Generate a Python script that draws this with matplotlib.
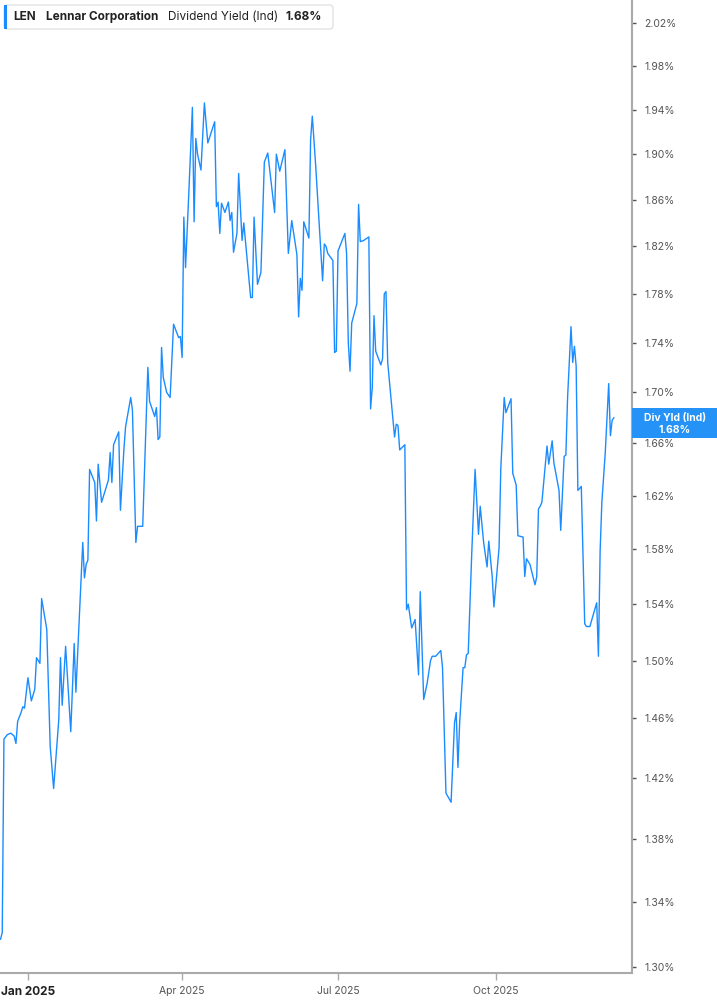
import numpy as np
import matplotlib
matplotlib.use("Agg")
import matplotlib.pyplot as plt
import matplotlib.dates as mdates
from matplotlib.patches import Rectangle, FancyBboxPatch
from matplotlib.ticker import FixedLocator, NullLocator, NullFormatter

# days counted from 2025-01-01, dividend yield in %
days = [-16, -15, -14, -12, -10, -8, -7, -6, -4, -3, -2, 0, 2, 4, 5, 7, 8, 11, 13, 15,
        18, 19, 20, 22, 25, 27, 28, 32, 33, 34, 35, 36, 39, 40, 41, 43, 47, 48, 49, 50,
        53, 54, 56, 57, 60, 61, 63, 64, 67, 70, 71, 74, 75, 76, 77, 78, 79, 81, 83, 85,
        88, 89, 90, 91, 92, 94, 96, 97, 98, 99, 101, 103, 105, 109, 110, 111, 112, 113, 115, 117,
        118, 119, 120, 122, 123, 125, 126, 130, 131, 132, 134, 136, 138, 140, 144, 145, 147, 150, 152, 154,
        157, 158, 159, 160, 161, 164, 165, 166, 168, 170, 172, 173, 174, 175, 178, 179, 180, 181, 185, 186,
        187, 188, 189, 192, 193, 194, 196, 199, 200, 201, 202, 203, 206, 207, 208, 209, 210, 214, 215, 216,
        217, 220, 221, 222, 224, 226, 228, 229, 231, 233, 235, 236, 238, 241, 242, 244, 247, 249, 250, 251,
        252, 254, 255, 256, 257, 259, 261, 263, 264, 266, 268, 269, 271, 272, 275, 276, 278, 279, 282, 283,
        285, 286, 289, 290, 291, 293, 296, 297, 298, 299, 300, 303, 304, 306, 307, 310, 311, 313, 314, 315,
        317, 318, 319, 320, 321, 323, 325, 326, 328, 332, 333, 334, 335, 337, 339, 340, 341, 342]
div_yield = [1.317, 1.321, 1.446, 1.449, 1.450, 1.448, 1.443, 1.458, 1.464, 1.468, 1.467, 1.488, 1.472, 1.480, 1.502, 1.498, 1.544, 1.522, 1.441, 1.413,
             1.459, 1.502, 1.469, 1.510, 1.451, 1.512, 1.478, 1.585, 1.559, 1.569, 1.572, 1.640, 1.630, 1.601, 1.644, 1.615, 1.632, 1.653, 1.630, 1.659,
             1.669, 1.609, 1.655, 1.673, 1.696, 1.686, 1.585, 1.597, 1.597, 1.720, 1.693, 1.681, 1.688, 1.663, 1.665, 1.736, 1.712, 1.700, 1.696, 1.755,
             1.744, 1.745, 1.728, 1.845, 1.802, 1.869, 1.942, 1.841, 1.914, 1.900, 1.886, 1.946, 1.910, 1.929, 1.854, 1.858, 1.831, 1.857, 1.849, 1.858,
             1.842, 1.849, 1.815, 1.831, 1.883, 1.825, 1.840, 1.777, 1.777, 1.845, 1.788, 1.798, 1.893, 1.901, 1.849, 1.900, 1.885, 1.904, 1.814, 1.842,
             1.813, 1.761, 1.793, 1.783, 1.841, 1.827, 1.913, 1.934, 1.889, 1.840, 1.791, 1.822, 1.820, 1.814, 1.808, 1.732, 1.733, 1.816, 1.831, 1.814,
             1.740, 1.717, 1.756, 1.772, 1.856, 1.824, 1.825, 1.828, 1.687, 1.704, 1.762, 1.733, 1.722, 1.727, 1.780, 1.782, 1.724, 1.665, 1.675, 1.674,
             1.655, 1.659, 1.536, 1.540, 1.523, 1.529, 1.490, 1.549, 1.473, 1.484, 1.500, 1.503, 1.503, 1.507, 1.495, 1.410, 1.404, 1.457, 1.464, 1.427,
             1.457, 1.495, 1.495, 1.504, 1.505, 1.575, 1.640, 1.591, 1.612, 1.585, 1.567, 1.586, 1.560, 1.538, 1.581, 1.640, 1.696, 1.684, 1.695, 1.637,
             1.628, 1.590, 1.589, 1.560, 1.573, 1.569, 1.554, 1.560, 1.610, 1.612, 1.615, 1.658, 1.644, 1.662, 1.645, 1.624, 1.594, 1.650, 1.651, 1.696,
             1.753, 1.724, 1.737, 1.721, 1.624, 1.627, 1.526, 1.524, 1.524, 1.541, 1.503, 1.579, 1.615, 1.653, 1.707, 1.666, 1.678, 1.680]

y_ticks = [1.30, 1.34, 1.38, 1.42, 1.46, 1.50, 1.54, 1.58, 1.62, 1.66, 1.70, 1.74, 1.78, 1.82, 1.86, 1.90, 1.94, 1.98, 2.02]
x_tick_dates = ["2025-01-01", "2025-04-01", "2025-07-01", "2025-10-01"]
x_tick_labels = ["Jan 2025", "Apr 2025", "Jul 2025", "Oct 2025"]
last_value = 1.68

plt.rcParams["font.family"] = ["Inter", "DejaVu Sans"]
BLUE = "#1a8cff"
W, H = 717, 1005

fig = plt.figure(figsize=(W / 100, H / 100), dpi=100)
ax = fig.add_axes([0, 32 / H, 632 / W, 973 / H])

base = mdates.date2num(np.datetime64("2025-01-01"))
x = base + np.array(days, dtype=float)
ax.plot(x, div_yield, color=BLUE, lw=1.0)

ax.set_yscale("log")
ax.set_ylim(1.2964, 2.0418)
ax.set_xlim(base - 16.3, base + 352.6)

ax.yaxis.set_major_locator(FixedLocator(y_ticks))
ax.yaxis.set_minor_locator(NullLocator())
ax.yaxis.set_minor_formatter(NullFormatter())
ax.set_yticklabels([f"{v:.2f}%" for v in y_ticks])
ax.yaxis.tick_right()
ax.tick_params(axis="y", length=3, width=1, color="#555555", labelsize=7.5,
               labelcolor="#555555", pad=6)

xt = [mdates.date2num(np.datetime64(d)) for d in x_tick_dates]
ax.set_xticks(xt)
ax.set_xticklabels(x_tick_labels)
ax.tick_params(axis="x", length=5, width=1, color="#aaaaaa", labelsize=7.5,
               labelcolor="#555555", pad=4)
lbl = ax.get_xticklabels()[0]
lbl.set_fontweight("bold")
lbl.set_color("#222222")
lbl.set_fontsize(8.5)

for s in ["top", "left"]:
    ax.spines[s].set_visible(False)
for s in ["right", "bottom"]:
    ax.spines[s].set_color("#aaaaaa")
    ax.spines[s].set_linewidth(1.5)


def fx(px):
    return px / W


def fy(py):
    return 1 - py / H


# header box
box = FancyBboxPatch((fx(4), fy(29)), fx(329), 24 / H, boxstyle="round,pad=0,rounding_size=0.004",
                     transform=fig.transFigure, facecolor="white", edgecolor="#e3e3e3", lw=1)
fig.add_artist(box)
fig.add_artist(Rectangle((fx(4), fy(29)), fx(3), 24 / H, transform=fig.transFigure,
                         facecolor=BLUE, edgecolor="none"))
fig.text(fx(13), fy(17), "LEN", fontweight="bold", fontsize=8.5, color="#222222", va="center")
fig.text(fx(46), fy(17), "Lennar Corporation", fontweight="bold", fontsize=8.5, color="#222222", va="center")
fig.text(fx(168), fy(17), "Dividend Yield (Ind)", fontsize=8.5, color="#222222", va="center")
fig.text(fx(286), fy(17), f"{last_value:.2f}%", fontweight="bold", fontsize=8.5, color="#222222", va="center")

# last value tag
yd = ax.transData.transform((base, last_value))[1]
yv = H - yd
fig.add_artist(Rectangle((fx(632), fy(yv + 20)), fx(85), 30 / H, transform=fig.transFigure,
                         facecolor="#2492f7", edgecolor="none"))
fig.text(fx(675), fy(yv + 0.5), "Div Yld (Ind)", fontweight="bold", fontsize=7.5, color="white",
         ha="center", va="center")
fig.text(fx(675), fy(yv + 12), f"{last_value:.2f}%", fontweight="bold", fontsize=7.5, color="white",
         ha="center", va="center")

fig.savefig("out.png", dpi=100)
